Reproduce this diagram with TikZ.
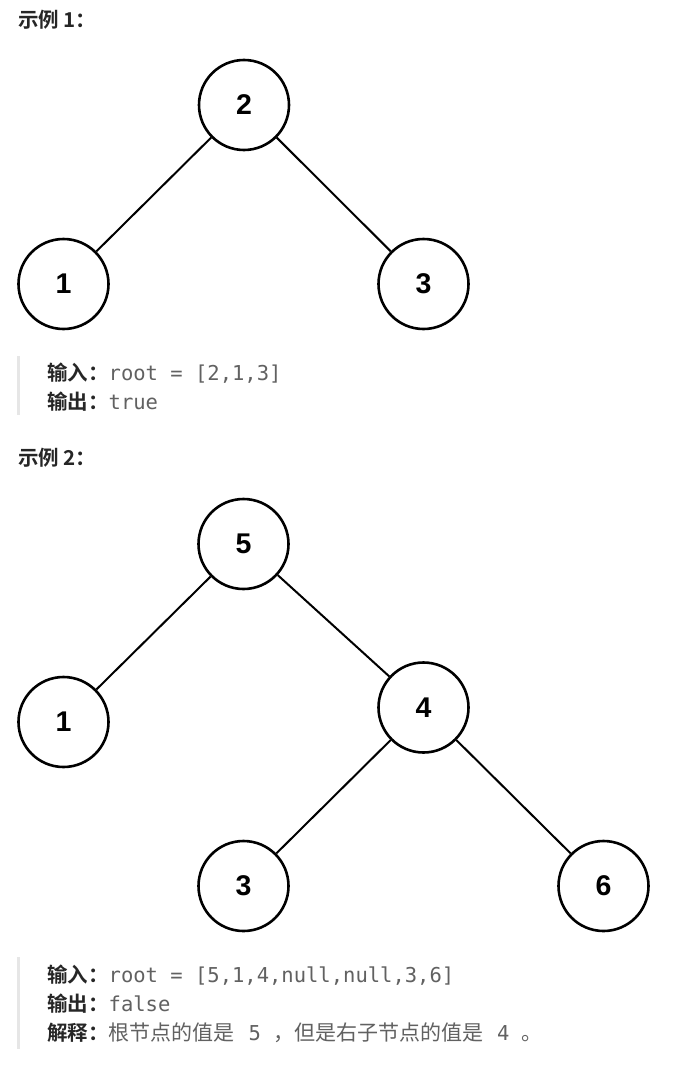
\documentclass[tikz,border=0pt]{standalone}
\usepackage{fontspec}
\setmainfont{Liberation Sans}
\setmonofont{DejaVu Sans Mono}
\newfontfamily\cjk{Noto Sans CJK SC}[BoldFont={Noto Sans CJK SC Bold}]
\definecolor{lbl}{RGB}{38,38,38}
\definecolor{txt}{RGB}{97,97,97}
\definecolor{barc}{RGB}{230,230,230}
\newcommand{\cjkg}[1]{{\fontsize{21}{24}\selectfont\cjk\color{txt}#1}}
\begin{document}
\begin{tikzpicture}[x=1pt,y=-1pt,
  tn/.style={circle,draw=black,line width=2.6pt,minimum size=90pt,inner sep=0pt,
             font=\fontsize{28.5}{30}\selectfont\bfseries},
  ed/.style={line width=2pt},
  ln/.style={anchor=base west,inner sep=0pt,font=\fontsize{20.5}{24}\selectfont},
  qbar/.style={draw=barc,line width=3pt},
]
\useasboundingbox[fill=white] (0,0) rectangle (686,1073);

% Example 1
\node[ln] (h1) at (18,28) {\cjk\bfseries\color{lbl}示例 1：};
\node[tn] (a2) at (244,105) {2};
\node[tn] (a1) at (63.5,284) {1};
\node[tn] (a3) at (423.5,284) {3};
\draw[ed] (a2) -- (a1);
\draw[ed] (a2) -- (a3);
\coordinate (q1t) at (18.5,356);
\coordinate (q1b) at (18.5,415);
\draw[qbar] (q1t) -- (q1b);
\node[ln] (i1) at (47,380) {{\cjk\bfseries\color{lbl}输入：}{\ttfamily\color{txt}root = [2,1,3]}};
\node[ln] (o1) at (47,409) {{\cjk\bfseries\color{lbl}输出：}{\ttfamily\color{txt}true}};

% Example 2
\node[ln] (h2) at (18,465) {\cjk\bfseries\color{lbl}示例 2：};
\node[tn] (b5) at (243.5,544) {5};
\node[tn] (b1) at (63.5,722) {1};
\node[tn] (b4) at (423.5,707.5) {4};
\node[tn] (b3) at (243.5,886) {3};
\node[tn] (b6) at (603.5,886) {6};
\draw[ed] (b5) -- (b1);
\draw[ed] (b5) -- (b4);
\draw[ed] (b4) -- (b3);
\draw[ed] (b4) -- (b6);
\coordinate (q2t) at (18.5,957);
\coordinate (q2b) at (18.5,1049);
\draw[qbar] (q2t) -- (q2b);
\node[ln] (i2) at (47,982) {{\cjk\bfseries\color{lbl}输入：}{\ttfamily\color{txt}root = [5,1,4,null,null,3,6]}};
\node[ln] (o2) at (47,1011) {{\cjk\bfseries\color{lbl}输出：}{\ttfamily\color{txt}false}};
\node[ln] (e2) at (47,1040) {{\cjk\bfseries\color{lbl}解释：}\cjkg{根节点的值是}{\ttfamily\color{txt}\hspace{1.5pt}\ 5\ }\cjkg{，但是右子节点的值是}{\ttfamily\color{txt}\hspace{1.5pt}\ 4\ }\cjkg{。}};
\end{tikzpicture}
\end{document}
